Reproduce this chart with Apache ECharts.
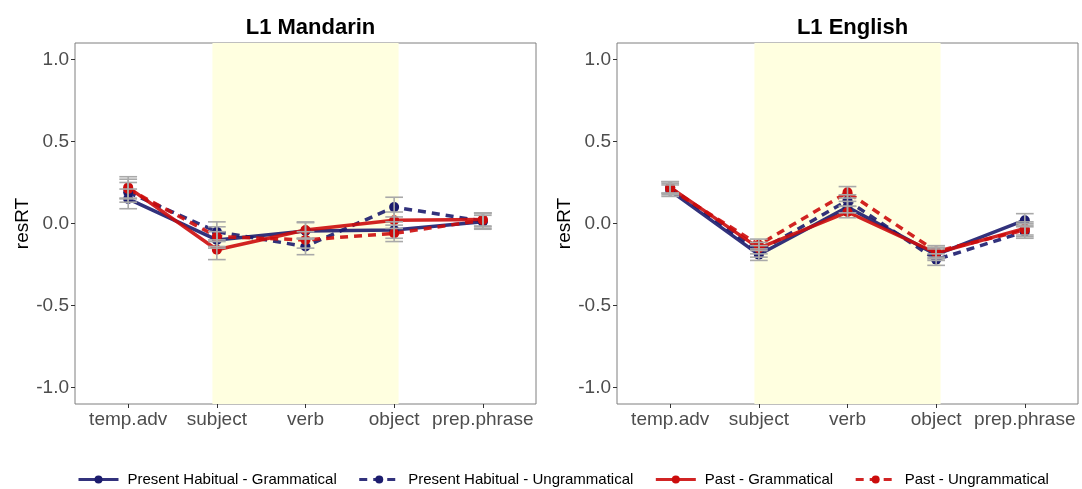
<!DOCTYPE html>
<html>
<head>
<meta charset="utf-8">
<script src="https://cdn.jsdelivr.net/npm/echarts@6/dist/echarts.min.js"></script>
<style>
  html, body { margin: 0; padding: 0; background: #fff; }
  #grafico { width: 1082px; height: 489px; }
</style>
</head>
<body>
<div id="grafico"></div>
<script>
// dados
var categorias = ["temp.adv", "subject", "verb", "object", "prep.phrase"];
var ticksY = [-1, -0.5, 0, 0.5, 1];
var nomes = [
    "Present Habitual - Grammatical",
    "Present Habitual - Ungrammatical",
    "Past - Grammatical",
    "Past - Ungrammatical"
];

// L1 Mandarin
var mandarinPHG = [0.15, -0.10, -0.045, -0.04, 0.01];
var mandarinPHU = [0.19, -0.05, -0.14, 0.10, 0.015];
var mandarinPG = [0.22, -0.16, -0.04, 0.02, 0.025];
var mandarinPU = [0.21, -0.08, -0.10, -0.06, 0.02];
var mandarinErroPHG = [0.06, 0.05, 0.05, 0.05, 0.04];
var mandarinErroPHU = [0.06, 0.06, 0.05, 0.06, 0.05];
var mandarinErroPG = [0.065, 0.06, 0.05, 0.05, 0.04];
var mandarinErroPU = [0.06, 0.06, 0.05, 0.05, 0.04];

// L1 English
var englishPHG = [0.20, -0.19, 0.10, -0.19, 0.02];
var englishPHU = [0.22, -0.17, 0.14, -0.22, -0.05];
var englishPG = [0.22, -0.15, 0.07, -0.18, -0.03];
var englishPU = [0.21, -0.13, 0.19, -0.17, -0.04];
var englishErroPHG = [0.035, 0.035, 0.035, 0.035, 0.04];
var englishErroPHU = [0.035, 0.035, 0.035, 0.035, 0.04];
var englishErroPG = [0.035, 0.035, 0.035, 0.035, 0.04];
var englishErroPU = [0.035, 0.035, 0.035, 0.035, 0.04];

var cores = ["#1c1c6e", "#1c1c6e", "#cc0c0c", "#cc0c0c"];
var tracos = ["solid", [8, 6], "solid", [8, 6]];
var fonte = "Liberation Sans, Arial, sans-serif";

var grids = [
    { left: 75, top: 43, width: 461, height: 361 },
    { left: 617, top: 43, width: 461, height: 361 }
];

function pares(valores) {
    return valores.map((v, i) => [i, v]);
}

function eixoX(idx) {
    return {
        type: "value", gridIndex: idx, min: -0.6, max: 4.6,
        splitLine: { show: false },
        axisLine: { show: false, onZero: false },
        axisTick: { show: true, length: 4, customValues: [0, 1, 2, 3, 4], lineStyle: { color: "#333" } },
        axisLabel: {
            customValues: [0, 1, 2, 3, 4],
            formatter: v => categorias[Math.round(v)],
            color: "#4d4d4d", fontSize: 19, fontFamily: fonte, margin: 6
        }
    };
}

function eixoY(idx) {
    return {
        type: "value", gridIndex: idx, min: -1.1, max: 1.1,
        name: "resRT", nameLocation: "middle", nameGap: 43, nameRotate: 90,
        nameTextStyle: { color: "#000", fontSize: 19, fontFamily: fonte },
        splitLine: { show: false },
        axisLine: { show: false, onZero: false },
        axisTick: { show: true, length: 4, customValues: ticksY, lineStyle: { color: "#333" } },
        axisLabel: {
            customValues: ticksY,
            formatter: v => v.toFixed(1),
            color: "#4d4d4d", fontSize: 19, fontFamily: fonte, margin: 6
        }
    };
}

function linhas(idx, grupos) {
    return grupos.map((valores, k) => ({
        name: nomes[k],
        type: "line",
        xAxisIndex: idx, yAxisIndex: idx,
        data: pares(valores),
        symbol: "circle", symbolSize: 10,
        itemStyle: { color: cores[k] },
        lineStyle: { color: cores[k], width: 3.5, type: tracos[k], opacity: 0.9 },
        z: 3,
        markArea: k == 0 ? {
            silent: true,
            itemStyle: { color: "#FFFFE0" },
            data: [[{ xAxis: 0.95 }, { xAxis: 3.05 }]]
        } : undefined
    }));
}

function barrasErro(idx, grupos, erros) {
    let dados = [];
    grupos.forEach((valores, k) => {
        valores.forEach((v, i) => {
            dados.push([i, v - erros[k][i], v + erros[k][i]]);
        });
    });
    return {
        type: "custom",
        xAxisIndex: idx, yAxisIndex: idx,
        silent: true, z: 4,
        data: dados,
        renderItem: (params, api) => {
            let baixo = api.coord([api.value(0), api.value(1)]);
            let alto = api.coord([api.value(0), api.value(2)]);
            let meia = api.size([0.1, 0])[0];
            let estilo = { stroke: "#a9a9a9", lineWidth: 1.6, fill: null };
            return {
                type: "group",
                children: [
                    { type: "line", shape: { x1: baixo[0], y1: baixo[1], x2: alto[0], y2: alto[1] }, style: estilo },
                    { type: "line", shape: { x1: baixo[0] - meia, y1: baixo[1], x2: baixo[0] + meia, y2: baixo[1] }, style: estilo },
                    { type: "line", shape: { x1: alto[0] - meia, y1: alto[1], x2: alto[0] + meia, y2: alto[1] }, style: estilo }
                ]
            };
        }
    };
}

var gruposMandarin = [mandarinPHG, mandarinPHU, mandarinPG, mandarinPU];
var errosMandarin = [mandarinErroPHG, mandarinErroPHU, mandarinErroPG, mandarinErroPU];
var gruposEnglish = [englishPHG, englishPHU, englishPG, englishPU];
var errosEnglish = [englishErroPHG, englishErroPHU, englishErroPG, englishErroPU];

var option = {
    animation: false,
    textStyle: { fontFamily: fonte },
    title: [
        { text: "L1 Mandarin", left: 305.5, top: 12, textAlign: "center",
          textStyle: { fontSize: 22, fontWeight: "bold", color: "#000", fontFamily: fonte } },
        { text: "L1 English", left: 847.5, top: 12, textAlign: "center",
          textStyle: { fontSize: 22, fontWeight: "bold", color: "#000", fontFamily: fonte } }
    ],
    legend: {
        data: nomes,
        left: 72, top: 467,
        itemWidth: 40, itemHeight: 10, itemGap: 21,
        lineStyle: { width: 3 },
        textStyle: { fontSize: 15, color: "#000", fontFamily: fonte, padding: [0, 0, 0, 4] }
    },
    grid: grids.map(g => Object.assign({ show: true, borderColor: "#7f7f7f", borderWidth: 1, backgroundColor: "transparent" }, g)),
    xAxis: [eixoX(0), eixoX(1)],
    yAxis: [eixoY(0), eixoY(1)],
    series: [].concat(
        linhas(0, gruposMandarin),
        [barrasErro(0, gruposMandarin, errosMandarin)],
        linhas(1, gruposEnglish),
        [barrasErro(1, gruposEnglish, errosEnglish)]
    )
};

var myChart = echarts.init(document.getElementById("grafico"));
myChart.setOption(option);
</script>
</body>
</html>
